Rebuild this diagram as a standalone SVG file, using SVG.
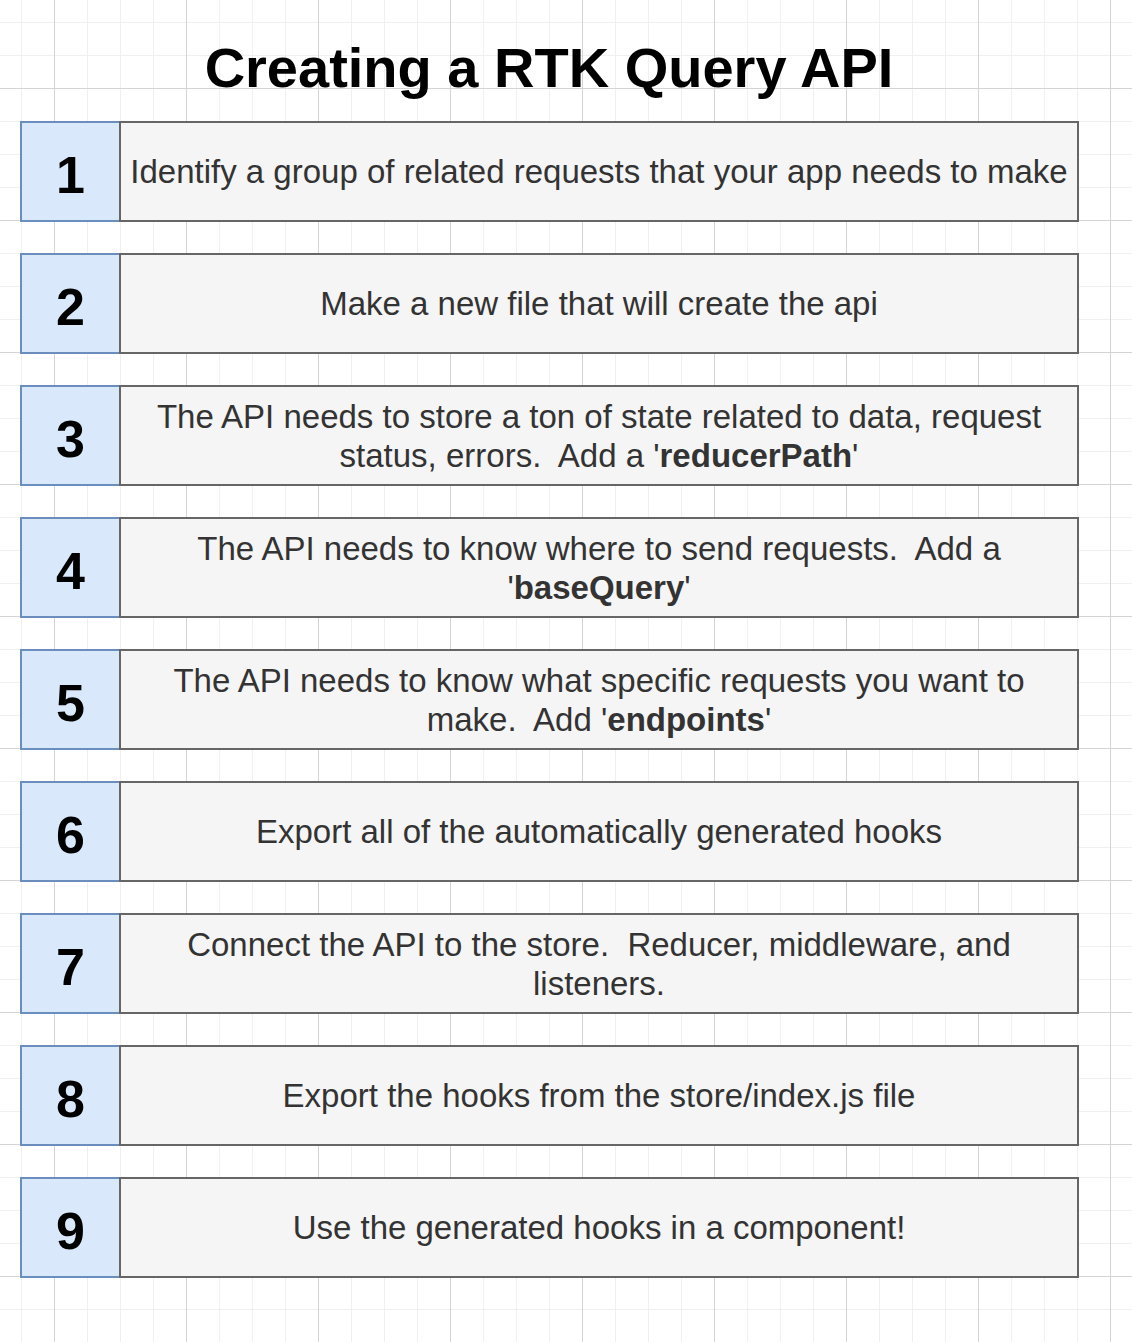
<svg xmlns="http://www.w3.org/2000/svg" width="1132" height="1342" viewBox="0 0 1132 1342">
<style>
.num{fill:#dae8fc;stroke:#6c8ebf;stroke-width:2}
.box{fill:#f5f5f5;stroke:#666666;stroke-width:2}
.n{font-family:Helvetica,"Liberation Sans",Arial,sans-serif;font-weight:bold;font-size:52px;fill:#000;text-anchor:middle}
.t{font-family:Helvetica,"Liberation Sans",Arial,sans-serif;font-size:33px;fill:#333333;text-anchor:middle;white-space:pre}
.title{font-family:Helvetica,"Liberation Sans",Arial,sans-serif;font-weight:bold;font-size:56px;fill:#000;text-anchor:middle}
</style>
<defs>
<pattern id="grid" x="54" y="88" width="132" height="132" patternUnits="userSpaceOnUse">
<path d="M33.5 0V132M66.5 0V132M99.5 0V132M0 33.5H132M0 66.5H132M0 99.5H132" stroke="#f0f0f0" stroke-width="1" fill="none"/>
<path d="M0.5 0V132M0 0.5H132" stroke="#d4d4d4" stroke-width="1" fill="none"/>
</pattern>
</defs>
<rect width="1132" height="1342" fill="#ffffff"/>
<rect width="1132" height="1342" fill="url(#grid)"/>
<text class="title" x="549" y="87">Creating a RTK Query API</text>
<g id="step1"><rect class="num" x="21" y="122" width="99" height="99"/><rect class="box" x="120" y="122" width="958" height="99"/><text class="n" x="70.5" y="192.5">1</text><text class="t" x="599" y="183">Identify a group of related requests that your app needs to make</text></g>
<g id="step2"><rect class="num" x="21" y="254" width="99" height="99"/><rect class="box" x="120" y="254" width="958" height="99"/><text class="n" x="70.5" y="324.5">2</text><text class="t" x="599" y="315">Make a new file that will create the api</text></g>
<g id="step3"><rect class="num" x="21" y="386" width="99" height="99"/><rect class="box" x="120" y="386" width="958" height="99"/><text class="n" x="70.5" y="456.5">3</text><text class="t" x="599" y="428">The API needs to store a ton of state related to data, request</text><text class="t" x="599" y="467">status, errors.  Add a '<tspan font-weight="bold">reducerPath</tspan>'</text></g>
<g id="step4"><rect class="num" x="21" y="518" width="99" height="99"/><rect class="box" x="120" y="518" width="958" height="99"/><text class="n" x="70.5" y="588.5">4</text><text class="t" x="599" y="560">The API needs to know where to send requests.  Add a</text><text class="t" x="599" y="599">'<tspan font-weight="bold">baseQuery</tspan>'</text></g>
<g id="step5"><rect class="num" x="21" y="650" width="99" height="99"/><rect class="box" x="120" y="650" width="958" height="99"/><text class="n" x="70.5" y="720.5">5</text><text class="t" x="599" y="692">The API needs to know what specific requests you want to</text><text class="t" x="599" y="731">make.  Add '<tspan font-weight="bold">endpoints</tspan>'</text></g>
<g id="step6"><rect class="num" x="21" y="782" width="99" height="99"/><rect class="box" x="120" y="782" width="958" height="99"/><text class="n" x="70.5" y="852.5">6</text><text class="t" x="599" y="843">Export all of the automatically generated hooks</text></g>
<g id="step7"><rect class="num" x="21" y="914" width="99" height="99"/><rect class="box" x="120" y="914" width="958" height="99"/><text class="n" x="70.5" y="984.5">7</text><text class="t" x="599" y="956">Connect the API to the store.  Reducer, middleware, and</text><text class="t" x="599" y="995">listeners.</text></g>
<g id="step8"><rect class="num" x="21" y="1046" width="99" height="99"/><rect class="box" x="120" y="1046" width="958" height="99"/><text class="n" x="70.5" y="1116.5">8</text><text class="t" x="599" y="1107">Export the hooks from the store/index.js file</text></g>
<g id="step9"><rect class="num" x="21" y="1178" width="99" height="99"/><rect class="box" x="120" y="1178" width="958" height="99"/><text class="n" x="70.5" y="1248.5">9</text><text class="t" x="599" y="1239">Use the generated hooks in a component!</text></g>
<g id="connectors"/>
</svg>
